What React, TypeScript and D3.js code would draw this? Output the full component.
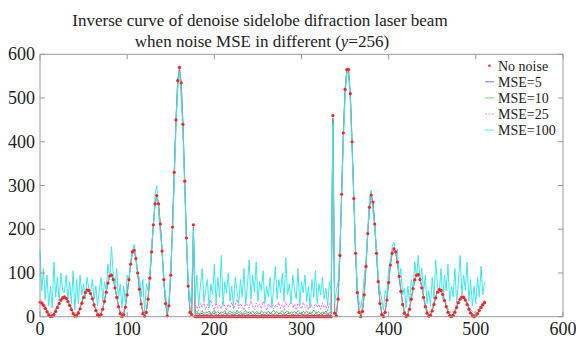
import React from "react";
import * as d3 from "d3";

// x sample positions: 0,2,4,...,510
const X_STEP = 2;

const noNoise = [
  33,31,26,19,11,4,0,
  1,5,12,21,30,38,43,45,42,35,26,16,7,1,
  2,8,18,31,44,55,61,60,53,41,27,14,4,1,
  5,17,35,56,77,93,95,85,66,44,23,7,0,
  5,22,50,85,120,148,152,133,100,63,29,7,1,
  10,40,88,148,210,258,277,258,212,150,85,30,2,
  25,95,205,330,450,540,570,535,440,310,180,70,10,5,210,
  0,0,0,0,0,0,0,0,0,0,
  0,0,0,0,0,0,0,0,0,0,
  0,0,0,0,0,0,0,0,0,0,
  0,0,0,0,0,0,0,0,0,0,
  0,0,0,0,0,0,0,0,0,0,
  0,0,0,0,0,0,0,0,0,0,
  0,0,0,0,0,0,0,0,0,0,
  0,0,0,0,0,0,0,0,0,
  460,8,2,
  40,140,280,420,520,565,565,510,400,270,145,55,10,0,
  12,50,115,190,250,278,262,212,145,80,30,5,0,
  10,38,78,118,145,155,148,125,92,58,28,8,0,
  3,17,40,64,84,95,96,85,66,44,23,8,1,
  3,13,28,43,56,62,60,51,37,23,10,2,0,
  3,10,21,32,40,45,44,38,28,17,8,2,0,
  2,7,14,21,27,32,
];

const mse5 = [
  35,32,27,20,12,6,2,
  3,6,13,22,31,39,44,45,42,36,27,17,9,3,
  4,9,19,32,45,55,61,60,53,42,28,15,6,3,
  7,18,36,56,77,93,95,85,67,45,24,9,2,
  7,23,51,85,120,148,152,133,100,64,30,9,3,
  12,41,88,148,210,258,277,258,212,150,85,31,4,
  26,96,205,330,450,540,569,534,440,310,180,71,12,7,205,
  5,7,4,6,8,3,6,5,7,4,
  6,8,5,4,7,6,3,8,5,6,
  7,4,6,5,9,4,7,5,6,8,
  4,6,7,5,3,7,6,8,4,6,
  5,7,4,8,6,5,7,3,6,8,
  5,6,4,7,9,5,6,4,7,5,
  8,6,5,7,4,6,8,5,3,7,
  6,4,7,5,8,6,4,6,5,
  455,10,4,
  41,141,280,420,519,564,564,509,400,270,146,56,12,2,
  13,51,115,190,250,278,262,212,145,81,31,7,2,
  11,39,79,118,145,155,148,125,92,59,29,9,2,
  4,18,41,64,84,95,96,85,67,45,24,9,3,
  4,14,29,44,57,62,60,51,38,24,11,4,2,
  4,11,22,33,41,45,44,39,29,18,9,4,2,
  4,8,15,22,28,33,
];

const mse10 = [
  36,33,28,22,13,7,4,
  5,7,14,23,32,40,45,46,43,37,28,18,10,5,
  6,10,20,33,46,56,62,61,54,43,29,17,8,5,
  8,19,37,57,78,94,96,86,68,46,26,10,4,
  8,24,52,86,121,149,152,134,101,65,31,10,5,
  13,42,89,149,210,258,276,257,212,151,86,33,6,
  28,97,205,330,448,538,568,533,438,310,180,72,14,9,200,
  8,12,6,10,14,7,11,9,13,6,
  10,15,8,12,7,11,9,14,6,10,
  13,8,11,7,15,9,12,6,10,14,
  8,11,9,13,7,12,10,6,14,9,
  11,8,13,7,10,15,9,12,6,11,
  14,8,10,13,7,11,9,12,8,14,
  10,6,12,9,13,7,11,8,15,10,
  9,12,7,11,8,13,6,10,9,
  450,12,6,
  42,142,280,419,518,563,563,508,399,271,147,57,13,4,
  15,52,116,191,250,277,261,212,146,82,33,9,4,
  13,40,80,119,145,155,148,125,93,60,30,11,4,
  6,20,42,65,85,95,96,86,68,46,26,11,5,
  6,16,30,45,58,63,61,52,39,26,13,6,4,
  6,13,24,34,42,46,45,40,30,20,11,6,4,
  6,10,17,24,30,34,
];

const mse25 = [
  40,36,30,25,15,12,8,
  10,9,18,25,36,42,48,50,44,40,30,22,12,8,
  9,14,22,35,48,58,63,62,55,45,32,20,12,8,
  12,22,40,58,80,95,98,88,70,48,30,14,8,
  12,28,55,88,122,150,152,135,102,68,35,15,8,
  16,45,92,150,210,258,275,255,210,150,88,36,10,
  30,100,205,328,445,535,565,530,435,308,180,75,18,15,190,
  18,25,14,30,22,35,16,28,20,38,
  24,15,32,20,27,18,36,22,14,29,
  21,33,17,26,40,19,30,23,15,34,
  26,20,37,24,16,31,22,28,18,35,
  25,14,30,21,36,17,27,23,32,19,
  28,16,34,22,25,38,20,29,15,31,
  24,18,33,21,27,16,35,23,19,30,
  22,28,17,32,20,26,14,30,24,
  430,20,12,
  45,145,280,418,515,560,560,505,398,272,150,60,18,10,
  20,56,118,192,250,275,260,212,148,85,36,14,8,
  18,44,82,120,146,155,147,126,95,62,34,16,9,
  12,24,46,68,86,96,97,87,70,50,30,16,10,
  12,20,34,48,60,65,63,55,42,30,18,12,9,
  12,18,28,38,45,50,48,43,34,25,16,12,10,
  12,16,22,28,33,38,
];

const mse100 = [
  150,60,110,40,95,25,70,
  20,125,45,90,35,100,60,55,95,40,80,30,105,15,
  85,30,95,50,75,40,90,65,55,85,40,70,25,60,
  90,35,80,60,120,85,160,95,70,110,40,75,20,
  70,30,95,80,125,150,165,140,95,90,45,85,10,
  75,60,100,165,200,280,300,240,190,160,70,55,15,
  40,110,190,300,430,520,560,500,420,300,160,85,30,60,200,
  40,95,25,70,110,35,60,85,20,75,
  50,120,30,90,45,140,25,80,55,100,
  35,70,20,90,60,30,85,45,110,25,
  75,130,40,95,55,125,35,80,60,105,
  30,70,45,90,20,65,115,40,85,55,
  100,35,135,50,75,30,95,60,40,110,
  25,80,55,95,35,70,20,85,45,105,
  30,75,50,90,40,65,25,80,60,
  440,30,60,
  80,150,260,400,500,560,555,490,380,280,160,70,35,20,
  45,90,130,200,270,290,240,200,160,95,60,40,15,
  60,50,110,130,160,170,140,155,85,110,50,65,20,
  70,35,85,60,125,90,140,80,110,55,95,30,60,
  25,90,40,130,70,55,110,40,95,60,120,35,70,
  45,110,30,80,140,50,95,60,125,35,85,25,70,
  30,90,45,115,50,80,
];

const xTicks = [0, 100, 200, 300, 400, 500, 600];
const yTicks = [0, 100, 200, 300, 400, 500, 600];

const legendLabels = ["No noise", "MSE=5", "MSE=10", "MSE=25", "MSE=100"];

const W = 576;
const H = 340;
const M = { left: 40, right: 13, top: 54.3, bottom: 23.3 };
const SERIF = "Liberation Serif";

export default function App() {
  const x = d3.scaleLinear().domain([0, 600]).range([M.left, W - M.right]);
  const y = d3.scaleLinear().domain([0, 600]).range([H - M.bottom, M.top]);
  const line = d3
    .line<number>()
    .x((_, i) => x(i * X_STEP))
    .y((d) => y(d));

  const x0 = x(0), x1 = x(600), y0 = y(0), y1 = y(600);
  const tick = 5;
  const axisColor = "#9a9a9a";

  const lines = [
    { data: mse5, color: "#7272f0", dash: undefined },
    { data: mse10, color: "#44cc44", dash: undefined },
    { data: mse25, color: "#ff66ff", dash: "2,1.5" },
    { data: mse100, color: "#3ee8e8", dash: undefined },
  ];

  const legColors = ["#ff3030", "#7777ee", "#66dd66", "#ff88ff", "#55eeee"];
  const legX = 485, legY0 = 65.7, legDy = 16.1;

  return (
    <svg
      width={W}
      height={H}
      style={{ position: "absolute", left: 0, top: 0, background: "#fff" }}
    >
      <text x={260} y={26} textAnchor="middle" fontFamily={SERIF} fontSize={17} fill="#222">
        Inverse curve of denoise sidelobe difraction laser beam
      </text>
      <text x={262} y={46.5} textAnchor="middle" fontFamily={SERIF} fontSize={17} fill="#222">
        when noise MSE in different (<tspan fontStyle="italic">y</tspan>=256)
      </text>

      {lines.map((l, i) => (
        <path
          key={i}
          d={line(l.data) || ""}
          fill="none"
          stroke={l.color}
          strokeWidth={1}
          strokeDasharray={l.dash}
        />
      ))}
      {noNoise.map((v, i) => (
        <circle key={i} cx={x(i * X_STEP)} cy={y(v)} r={1.6} fill="#ff2020" />
      ))}

      {/* axes box */}
      <rect x={x0} y={y1} width={x1 - x0} height={y0 - y1} fill="none" stroke={axisColor} strokeWidth={1} />
      {xTicks.map((t) => (
        <g key={"xt" + t}>
          <line x1={x(t)} x2={x(t)} y1={y0} y2={y0 - tick} stroke={axisColor} />
          <line x1={x(t)} x2={x(t)} y1={y1} y2={y1 + tick} stroke={axisColor} />
          <text x={x(t)} y={335} textAnchor="middle" fontFamily={SERIF} fontSize={18} fill="#222">
            {t}
          </text>
        </g>
      ))}
      {yTicks.map((t) => (
        <g key={"yt" + t}>
          <line x1={x0} x2={x0 + tick} y1={y(t)} y2={y(t)} stroke={axisColor} />
          <line x1={x1} x2={x1 - tick} y1={y(t)} y2={y(t)} stroke={axisColor} />
          <text x={35} y={y(t) + 6} textAnchor="end" fontFamily={SERIF} fontSize={18} fill="#222">
            {t}
          </text>
        </g>
      ))}

      {/* legend */}
      {legendLabels.map((lab, i) => {
        const ly = legY0 + i * legDy;
        return (
          <g key={lab}>
            {i === 0 ? (
              <circle cx={legX + 4.5} cy={ly} r={1.3} fill={legColors[0]} />
            ) : (
              <line
                x1={legX}
                x2={legX + 9}
                y1={ly}
                y2={ly}
                stroke={legColors[i]}
                strokeWidth={1}
                strokeDasharray={i === 3 ? "2,1.5" : undefined}
              />
            )}
            <text x={legX + 13} y={ly + 4.8} fontFamily={SERIF} fontSize={14} fill="#222">
              {lab}
            </text>
          </g>
        );
      })}
    </svg>
  );
}
